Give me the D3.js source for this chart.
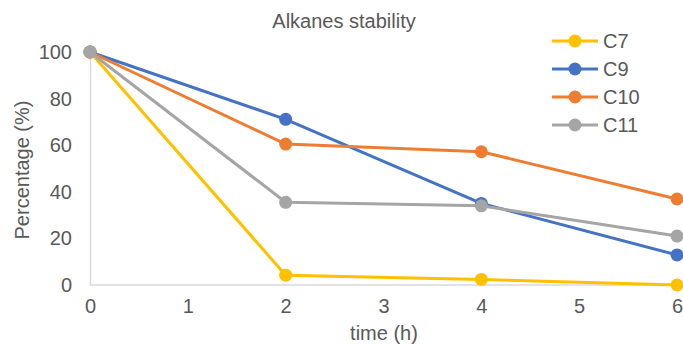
<!DOCTYPE html>
<html>
<head>
<meta charset="utf-8">
<script src="https://cdn.jsdelivr.net/npm/d3@7"></script>
<style>
  body { margin: 0; background: #fff; }
  text { font-family: "Liberation Sans", Arial, sans-serif; fill: #595959; }
</style>
</head>
<body>
<script>
// data
const times = [0, 2, 4, 6];
const seriesNames = ["C7", "C9", "C10", "C11"];
const c7 = [100, 4.2, 2.4, 0];
const c9 = [100, 71.1, 35, 12.9];
const c10 = [100, 60.5, 57.2, 36.9];
const c11 = [100, 35.5, 34, 21];
const xTicks = [0, 1, 2, 3, 4, 5, 6];
const yTicks = [0, 20, 40, 60, 80, 100];

const colours = ["#FFC000", "#4472C4", "#ED7D31", "#A5A5A5"];
const series = [c7, c9, c10, c11].map((vals, i) => ({
  name: seriesNames[i],
  colour: colours[i],
  points: vals.map((v, j) => ({ t: times[j], v: v })),
}));

const w = 683,
  h = 344;

const svg = d3
  .select("body")
  .append("svg")
  .attr("width", w)
  .attr("height", h);

const x = d3.scaleLinear().domain([0, 6]).range([90, 677]);
const y = d3.scaleLinear().domain([0, 100]).range([285, 52]);

// axes
const xAxis = svg
  .append("g")
  .attr("transform", "translate(0," + y(0) + ")")
  .call(
    d3.axisBottom(x).tickValues(xTicks).tickFormat(d3.format("d")).tickSize(0).tickPadding(14)
  );
const yAxis = svg
  .append("g")
  .attr("transform", "translate(" + x(0) + ",0)")
  .call(
    d3.axisLeft(y).tickValues(yTicks).tickFormat(d3.format("d")).tickSize(0).tickPadding(18)
  );

[xAxis, yAxis].forEach((g) => {
  g.select(".domain").attr("stroke", "#d9d9d9").attr("stroke-width", 1.5);
  g.selectAll("text")
    .attr("font-size", 20)
    .attr("font-family", "Liberation Sans, Arial, sans-serif")
    .attr("fill", "#595959");
});
xAxis.select(".domain").attr("d", "M" + x(0) + ",0H" + (x(6) + 4));

// lines
const line = d3
  .line()
  .x((d) => x(d.t))
  .y((d) => y(d.v));

series.forEach((s) => {
  svg
    .append("path")
    .datum(s.points)
    .attr("d", line)
    .attr("fill", "none")
    .attr("stroke", s.colour)
    .attr("stroke-width", 3)
    .attr("stroke-linejoin", "round");
  svg
    .selectAll(null)
    .data(s.points)
    .enter()
    .append("circle")
    .attr("cx", (d) => x(d.t))
    .attr("cy", (d) => y(d.v))
    .attr("r", 6.5)
    .attr("fill", s.colour);
});

// titles
svg
  .append("text")
  .attr("x", 344)
  .attr("y", 28)
  .attr("text-anchor", "middle")
  .attr("font-size", 20)
  .text("Alkanes stability");

svg
  .append("text")
  .attr("x", 384)
  .attr("y", 340)
  .attr("text-anchor", "middle")
  .attr("font-size", 20)
  .text("time (h)");

svg
  .append("text")
  .attr("transform", "translate(29,170) rotate(-90)")
  .attr("text-anchor", "middle")
  .attr("font-size", 20)
  .text("Percentage (%)");

// legend
const legendG = svg
  .selectAll(".legend")
  .data(series)
  .enter()
  .append("g")
  .attr("class", "legend")
  .attr("transform", (d, i) => "translate(552," + (41 + i * 28) + ")");

legendG
  .append("line")
  .attr("x1", 0)
  .attr("x2", 46)
  .attr("stroke", (d) => d.colour)
  .attr("stroke-width", 3);
legendG
  .append("circle")
  .attr("cx", 23)
  .attr("r", 6.5)
  .attr("fill", (d) => d.colour);
legendG
  .append("text")
  .attr("x", 51)
  .attr("y", 7)
  .attr("font-size", 20)
  .text((d) => d.name);
</script>
</body>
</html>
